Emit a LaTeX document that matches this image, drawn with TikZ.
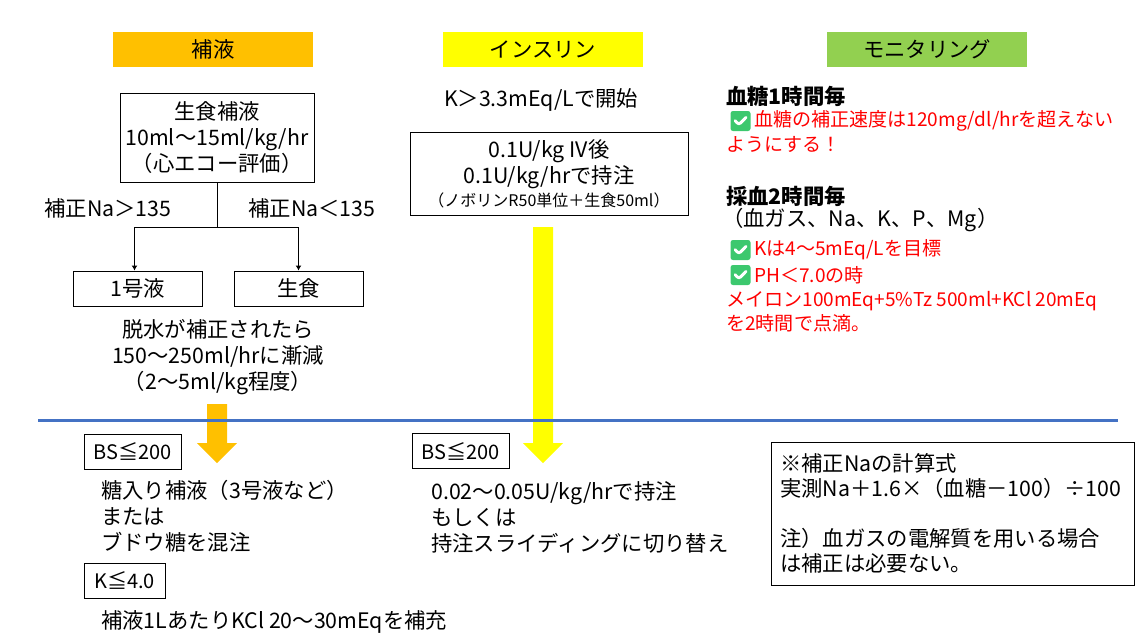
\documentclass[tikz,border=0pt]{standalone}
\usepackage{fontspec}
\setmainfont{Noto Sans CJK JP}
\usetikzlibrary{arrows.meta}
\newlength{\Px}
\setlength{\Px}{0.75pt}
\definecolor{fluidorange}{HTML}{FFC000}
\definecolor{insulinyellow}{HTML}{FFFF00}
\definecolor{monitorgreen}{HTML}{92D050}
\definecolor{rulerblue}{HTML}{4472C4}
\definecolor{alertred}{HTML}{FF0000}
\definecolor{checkgreen}{HTML}{3CC86E}
\tikzset{
  head box/.style={minimum width=200\Px, minimum height=35\Px, inner sep=0pt, font=\fontsize{16}{19.5}\selectfont},
  frame box/.style={draw, line width=1\Px, inner sep=0pt, align=center, font=\fontsize{16}{19.5}\selectfont},
  cond box/.style={frame box, minimum height=35\Px, font=\fontsize{15}{18}\selectfont},
  body text/.style={inner sep=0pt, font=\fontsize{16}{19.5}\selectfont},
  alert text/.style={inner sep=0pt, text=alertred, font=\fontsize{14.3}{18}\selectfont},
  bold head/.style={inner sep=0pt, font=\fontsize{16}{19.5}\selectfont\bfseries},
  check icon/.style={fill=checkgreen, rounded corners=2.5\Px, minimum size=20\Px, inner sep=0pt,
    path picture={\draw[white, line width=2.2pt, line cap=round, line join=round]
      ([shift={(-4pt,0.2pt)}]path picture bounding box.center) --
      ([shift={(-1.2pt,-2.8pt)}]path picture bounding box.center) --
      ([shift={(4.1pt,2.7pt)}]path picture bounding box.center);}},
  split arrow/.style={line width=1\Px, -{Latex[length=3.75pt,width=4.5pt]}}
}

\begin{document}
\begin{tikzpicture}[x=\Px, y=-\Px]
  \useasboundingbox (0,0) rectangle (1146,643);

  % column heads
  \node[head box, fill=fluidorange]   (hfluid)   at (213,49.5) {補液};
  \node[head box, fill=insulinyellow] (hinsulin) at (543,49.5) {インスリン};
  \node[head box, fill=monitorgreen]  (hmonitor) at (927,49.5) {モニタリング};

  % fluids
  \node[frame box, minimum width=194\Px, minimum height=89\Px] (saline) at (217,137.5)
    {生食補液\\10ml～15ml/kg/hr\\（心エコー評価）};
  \node[body text] (nahigh) at (108,208) {補正Na＞135};
  \node[body text] (nalow)  at (312,208) {補正Na＜135};
  \node[frame box, minimum width=129\Px, minimum height=35\Px] (no1) at (137.5,288.5) {1号液};
  \node[frame box, minimum width=129\Px, minimum height=35\Px] (ns)  at (298.5,288.5) {生食};
  \coordinate (split) at (217,227);
  \draw[line width=1\Px] (saline.south) -- (split);
  \draw[split arrow] (split) -| ([xshift=-3\Px]no1.north);
  \draw[split arrow] (split) -| (ns.north);
  \node[body text, align=center] (taper) at (218,357)
    {脱水が補正されたら\\150～250ml/hrに漸減\\（2～5ml/kg程度）};

  % insulin
  \node[body text] (kstart) at (541,100) {K＞3.3mEq/Lで開始};
  \node[frame box, minimum width=278\Px, minimum height=83\Px] (ivbox) at (549,173.5)
    {0.1U/kg IV後\\0.1U/kg/hrで持注\\[-2pt]{\fontsize{12}{14}\selectfont （ノボリンR50単位＋生食50ml）}};

  % big arrows
  \fill[fluidorange] (207,404) -- (227,404) -- (227,443) -- (237,443) -- (217,463) -- (197,443) -- (207,443) -- cycle;
  \fill[insulinyellow] (533,227) -- (553,227) -- (553,443) -- (563,443) -- (543,463) -- (523,443) -- (533,443) -- cycle;

  \draw[rulerblue, line width=3\Px] (38,420) -- (1118,420);

  % lower left
  \node[cond box, minimum width=97\Px] (bsfluid) at (132.5,451.5) {BS≦200};
  \node[body text, align=left, anchor=west] (sugar) at (101,516.5)
    {糖入り補液（3号液など）\\または\\ブドウ糖を混注};
  \node[cond box, minimum width=81\Px] (kfour) at (124.5,580.5) {K≦4.0};
  \node[body text, anchor=west] (kcl) at (101,622) {補液1LあたりKCl 20～30mEqを補充};

  % lower middle
  \node[cond box, minimum width=97\Px] (bsins) at (460.5,451) {BS≦200};
  \node[body text, align=left, anchor=west] (slide) at (431,517.5)
    {0.02～0.05U/kg/hrで持注\\もしくは\\持注スライディングに切り替え};

  % monitoring
  \node[bold head, anchor=west] (bghead) at (726,96) {血糖1時間毎};
  \node[check icon] (chka) at (740.5,121) {};
  \node[alert text, anchor=west] (bgrate) at (754,121) {血糖の補正速度は120mg/dl/hrを超えない};
  \node[alert text, anchor=west] (bgrateb) at (726,144) {ようにする！};
  \node[bold head, anchor=west] (gashead) at (726,196) {採血2時間毎};
  \node[body text, anchor=west] (gaslist) at (722,220) {（血ガス、Na、K、P、Mg）};
  \node[check icon] (chkb) at (740.5,250) {};
  \node[alert text, anchor=west] (ktarget) at (754,250) {Kは4～5mEq/Lを目標};
  \node[check icon] (chkc) at (740.5,275) {};
  \node[alert text, anchor=west] (phlow) at (754,275) {PH＜7.0の時};
  \node[alert text, align=left, anchor=west] (meylon) at (726,312)
    {メイロン100mEq+5\%Tz 500ml+KCl 20mEq\\を2時間で点滴。};

  % note
  \node[frame box, minimum width=363\Px, minimum height=143\Px, text width=345\Px, align=left,
        font=\fontsize{16}{18.75}\selectfont] (note) at (952.5,513.5)
    {※補正Naの計算式\\実測Na＋1.6×（血糖－100）÷100\\[18.75pt]注）血ガスの電解質を用いる場合\\は補正は必要ない。};
\end{tikzpicture}
\end{document}
